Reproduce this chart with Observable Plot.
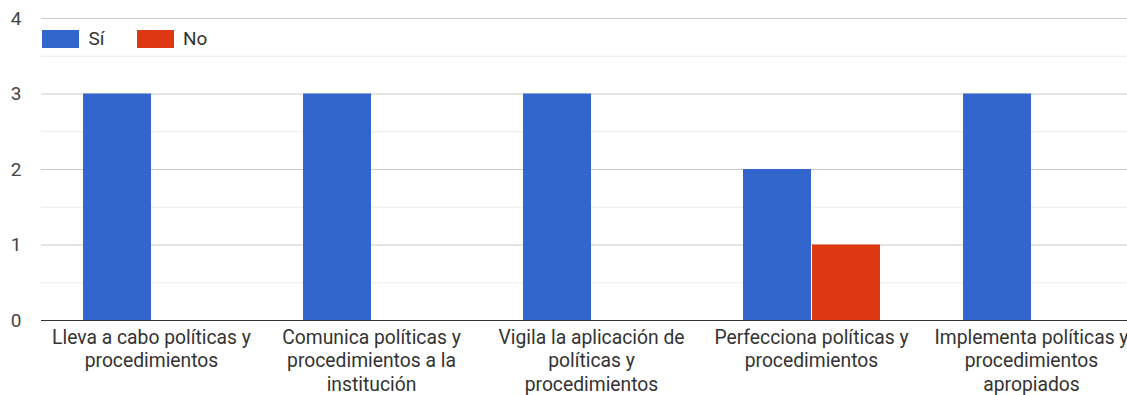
<!DOCTYPE html>
<html>
<head>
<meta charset="utf-8">
<script src="https://cdn.jsdelivr.net/npm/d3@7"></script>
<script src="https://cdn.jsdelivr.net/npm/@observablehq/plot@0.6"></script>
<style>
  html, body { margin: 0; padding: 0; background: #fff; overflow: hidden; }
  #wrap { position: relative; width: 1127px; height: 395px; overflow: hidden; }
  #legend { position: absolute; left: 42px; top: 22px; }
  #legend [class$="-swatch"] { margin-right: 32px !important; }
</style>
</head>
<body>
<div id="wrap"><div id="chart"></div><div id="legend"></div></div>
<script>
const categories = [
  "Lleva a cabo políticas y procedimientos",
  "Comunica políticas y procedimientos a la institución",
  "Vigila la aplicación de políticas y procedimientos",
  "Perfecciona políticas y procedimientos",
  "Implementa políticas y procedimientos apropiados"
];
const tickLabels = [
  "Lleva a cabo políticas y\nprocedimientos",
  "Comunica políticas y\nprocedimientos a la\ninstitución",
  "Vigila la aplicación de\npolíticas y\nprocedimientos",
  "Perfecciona políticas y\nprocedimientos",
  "Implementa políticas y\nprocedimientos\napropiados"
];
const series = ["Sí", "No"];
const siValues = [3, 3, 3, 2, 3];
const noValues = [0, 0, 0, 1, 0];
const colors = ["#3366cc", "#dc3912"];
const majorTicks = [0, 1, 2, 3, 4];
const minorTicks = [0.5, 1.5, 2.5, 3.5];

const data = categories.flatMap((c, i) => [
  {cat: c, serie: series[0], value: siValues[i]},
  {cat: c, serie: series[1], value: noValues[i]}
]);

const font = "Roboto, 'Liberation Sans', Arial, sans-serif";

const chart = Plot.plot({
  width: 1141,
  height: 395,
  marginLeft: 41,
  marginRight: 0,
  marginTop: 18,
  marginBottom: 75,
  style: {fontFamily: font, fontSize: "19px", maxWidth: "none", background: "#fff"},
  fx: {domain: categories, padding: 0, axis: null, label: null},
  x: {domain: series, paddingInner: 0.0145, paddingOuter: 0.6, axis: null},
  y: {domain: [0, 4], axis: null},
  color: {domain: series, range: colors},
  marks: [
    Plot.gridY(minorTicks, {stroke: "#ebebeb", strokeOpacity: 1}),
    Plot.gridY(majorTicks, {stroke: "#cccccc", strokeOpacity: 1}),
    Plot.axisY(majorTicks, {tickSize: 0, tickPadding: 20, fontSize: 19, fill: "#444", label: null,
      tickFormat: d => String(d)}),
    Plot.barY(data, {fx: "cat", x: "serie", y: "value", fill: "serie"}),
    Plot.ruleY([0], {stroke: "#333", strokeWidth: 1.2}),
    Plot.axisFx({anchor: "bottom", tickSize: 0, tickPadding: 6, lineHeight: 1.24, fontSize: 19.3, fill: "#333", label: null,
      tickFormat: d => tickLabels[categories.indexOf(d)]})
  ]
});
document.getElementById("chart").appendChild(chart);

const legend = Plot.legend({
  color: {domain: series, range: colors},
  swatchWidth: 37,
  swatchHeight: 18,
  style: {fontFamily: font, fontSize: "19px", color: "#333"}
});
document.getElementById("legend").appendChild(legend);
</script>
</body>
</html>
